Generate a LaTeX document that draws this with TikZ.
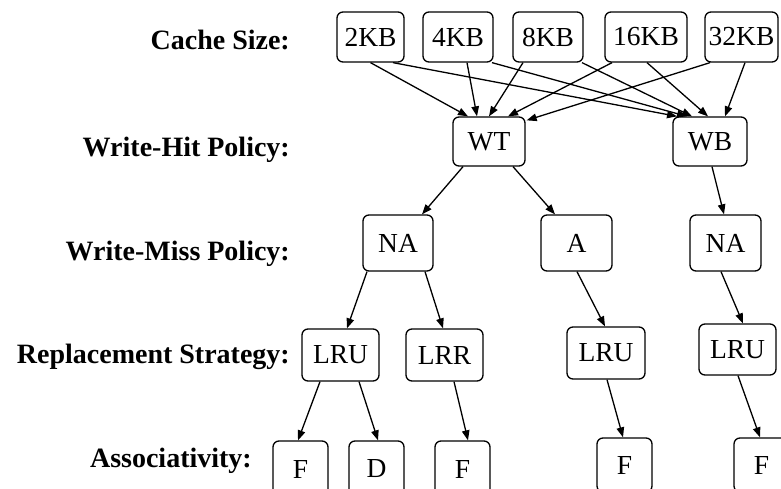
\documentclass[tikz,border=0pt]{standalone}
\usepackage{fontspec}
\setmainfont{Liberation Serif}
\usetikzlibrary{arrows.meta}
\newcommand\mybx[6]{\node[box,minimum width=#4pt,minimum height=#5pt] (#1) at (#2,#3) {#6};}
\newcommand\myed[4]{\draw[arr] ([xshift=#2pt]#1.south) -- ([xshift=#4pt]#3.north);}
\begin{document}
\begin{tikzpicture}[x=1pt,y=-1pt,
  box/.style={draw, rounded corners=6pt, line width=1.3pt, inner sep=0pt, font=\fontsize{27.5}{33}\selectfont},
  lab/.style={anchor=base east, inner sep=0pt, font=\fontsize{28}{34}\selectfont\bfseries},
  arr/.style={line width=1.3pt, -{Triangle[length=10pt,width=7.5pt]}}]
\useasboundingbox (0,0) rectangle (781,489);
\clip (0,0) rectangle (781,489);
% labels
\node[lab] (l1) at (290,50) {Cache Size:};
\node[lab] (l2) at (290,157) {Write-Hit Policy:};
\node[lab] (l3) at (290,260) {Write-Miss Policy:};
\node[lab] (l4) at (290,363) {Replacement Strategy:};
\node[lab] (l5) at (252,467) {Associativity:};
% boxes
\mybx{k2}{370.5}{37}{67}{50}{2KB}
\mybx{k4}{458}{37}{70}{50}{4KB}
\mybx{k8}{548}{37}{70}{50}{8KB}
\mybx{k16}{646}{37}{82}{50}{16KB}
\mybx{k32}{741.5}{37}{73}{50}{32KB}
\mybx{wt}{489}{141.5}{72}{49}{WT}
\mybx{wb}{710}{141.5}{74}{49}{WB}
\mybx{na1}{398}{243}{70}{56}{NA}
\mybx{a}{576.5}{243}{71}{56}{A}
\mybx{na2}{725.5}{243}{71}{56}{NA}
\mybx{lru1}{340.5}{355}{77}{52}{LRU}
\mybx{lrr}{444.5}{355}{77}{52}{LRR}
\mybx{lru2}{606}{353}{78}{52}{LRU}
\mybx{lru3}{737.5}{349.5}{77}{51}{LRU}
\mybx{f1}{300.5}{469}{55}{56}{F}
\mybx{d}{376.5}{469}{55}{56}{D}
\mybx{f2}{462.5}{469}{55}{56}{F}
\mybx{f3}{624.5}{465}{55}{54}{F}
\mybx{f4}{761.5}{465}{55}{54}{F}
% edges
\myed{k2}{0}{wt}{-21}
\myed{k2}{22.5}{wb}{-33}
\myed{k4}{9}{wt}{-12}
\myed{k4}{34}{wb}{-23}
\myed{k8}{-25}{wt}{0}
\myed{k8}{34}{wb}{-18}
\myed{k16}{-34}{wt}{19}
\myed{k16}{1}{wb}{-2}
\draw[arr] ([xshift=-31.5pt]k32.south) -- ([xshift=1pt,yshift=-4pt]wt.north east);
\myed{k32}{3.5}{wb}{15}
\myed{wt}{-26}{na1}{24}
\myed{wt}{24}{a}{-21.5}
\myed{wb}{2}{na2}{-1.5}
\myed{na1}{-31}{lru1}{6.5}
\myed{na1}{27}{lrr}{-1.5}
\myed{a}{0.5}{lru2}{-1}
\myed{na2}{-4.5}{lru3}{5.5}
\myed{lru1}{-20.5}{f1}{-2.5}
\myed{lru1}{18.5}{d}{1.5}
\myed{lrr}{9.5}{f2}{5.5}
\myed{lru2}{1}{f3}{-1.5}
\myed{lru3}{0.5}{f4}{-1.5}
\end{tikzpicture}
\end{document}
